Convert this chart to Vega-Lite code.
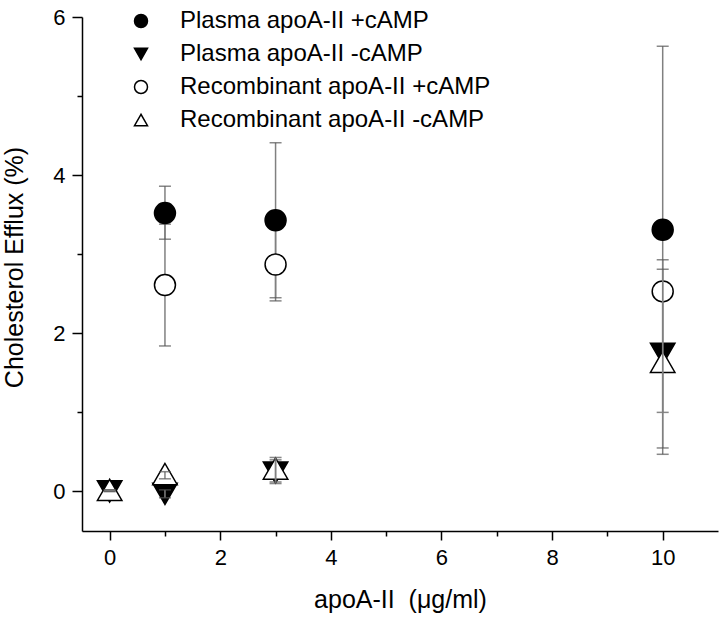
{
  "$schema": "https://vega.github.io/schema/vega-lite/v6.json",
  "width": 636,
  "height": 514,
  "autosize": {"type": "none"},
  "padding": {"left": 82, "top": 17, "right": 4, "bottom": 88},
  "background": "white",
  "config": {
    "view": {"stroke": null},
    "font": "Liberation Sans",
    "axis": {
      "domainColor": "black",
      "domainWidth": 1.5,
      "tickColor": "black",
      "tickWidth": 1.5,
      "labelColor": "black",
      "titleColor": "black",
      "labelFont": "Liberation Sans",
      "titleFont": "Liberation Sans",
      "labelFontSize": 22,
      "titleFontSize": 25,
      "titleFontWeight": "normal",
      "grid": false
    },
    "legend": {
      "orient": "none", "legendX": 47, "legendY": -8, "padding": 0,
      "symbolSize": 169, "symbolStrokeWidth": 1.5, "symbolStrokeColor": "black",
      "labelFontSize": 24, "labelFont": "Liberation Sans", "labelColor": "black",
      "labelOffset": 27, "rowPadding": 9, "labelLimit": 0
    }
  },
  "data": {
    "values": [
      {"s": "Plasma apoA-II +cAMP", "x": 1, "y": 3.52, "lo": 3.19, "hi": 3.86},
      {"s": "Plasma apoA-II +cAMP", "x": 3, "y": 3.43, "lo": 2.45, "hi": 4.41},
      {"s": "Plasma apoA-II +cAMP", "x": 10, "y": 3.31, "lo": 1.0, "hi": 5.63},
      {"s": "Plasma apoA-II -cAMP", "x": 0, "y": 0.0, "lo": 0.0, "hi": 0.0},
      {"s": "Plasma apoA-II -cAMP", "x": 1, "y": -0.03, "lo": -0.08, "hi": 0.02},
      {"s": "Plasma apoA-II -cAMP", "x": 3, "y": 0.24, "lo": 0.1, "hi": 0.4},
      {"s": "Plasma apoA-II -cAMP", "x": 10, "y": 1.74, "lo": 0.55, "hi": 2.93},
      {"s": "Recombinant apoA-II +cAMP", "x": 1, "y": 2.61, "lo": 1.84, "hi": 3.38},
      {"s": "Recombinant apoA-II +cAMP", "x": 3, "y": 2.87, "lo": 2.41, "hi": 3.33},
      {"s": "Recombinant apoA-II +cAMP", "x": 10, "y": 2.53, "lo": 2.43, "hi": 2.63},
      {"s": "Recombinant apoA-II -cAMP", "x": 0, "y": 0.02, "lo": 0.02, "hi": 0.02},
      {"s": "Recombinant apoA-II -cAMP", "x": 1, "y": 0.22, "lo": 0.16, "hi": 0.25},
      {"s": "Recombinant apoA-II -cAMP", "x": 3, "y": 0.29, "lo": 0.12, "hi": 0.43},
      {"s": "Recombinant apoA-II -cAMP", "x": 10, "y": 1.64, "lo": 0.47, "hi": 2.81}
    ]
  },
  "encoding": {
    "x": {
      "field": "x",
      "type": "quantitative",
      "scale": {"domain": [-0.5, 11], "nice": false, "zero": false},
      "axis": {
        "orient": "bottom",
        "values": [0, 1, 2, 3, 4, 5, 6, 7, 8, 9, 10],
        "labelExpr": "datum.value % 2 === 0 ? datum.label : ''",
        "tickSize": {"condition": {"test": "datum.value % 2 === 0", "value": 9}, "value": 5},
        "labelPadding": 7,
        "labelFlush": false,
        "title": "apoA-II\u00a0 (\u03bcg/ml)",
        "titleBaseline": "alphabetic",
        "titleY": 76
      }
    },
    "y": {
      "field": "y",
      "type": "quantitative",
      "scale": {"domain": [-0.5, 6], "nice": false, "zero": false},
      "axis": {
        "orient": "left",
        "values": [0, 1, 2, 3, 4, 5, 6],
        "labelExpr": "datum.value % 2 === 0 ? datum.label : ''",
        "tickSize": {"condition": {"test": "datum.value % 2 === 0", "value": 10}, "value": 5},
        "labelPadding": 7,
        "labelFlush": false,
        "title": "Cholesterol Efflux (%)",
        "titleBaseline": "alphabetic",
        "titleAngle": -90,
        "titleAlign": "center",
        "titleX": -60,
        "titleY": 250
      }
    }
  },
  "layer": [
    {
      "transform": [{"filter": {"field": "s", "oneOf": ["Plasma apoA-II +cAMP", "Recombinant apoA-II +cAMP"]}}],
      "mark": {"type": "rule", "color": "#808080", "strokeWidth": 1.5},
      "encoding": {
        "y": {"field": "lo", "type": "quantitative"},
        "y2": {"field": "hi"}
      }
    },
    {
      "transform": [
        {"filter": {"field": "s", "oneOf": ["Plasma apoA-II +cAMP", "Recombinant apoA-II +cAMP"]}},
        {"fold": ["lo", "hi"], "as": ["k", "v"]}
      ],
      "mark": {"type": "tick", "orient": "horizontal", "size": 12, "thickness": 1.5, "color": "#555555"},
      "encoding": {
        "y": {"field": "v", "type": "quantitative"}
      }
    },
    {
      "transform": [{"filter": {"field": "s", "oneOf": ["Plasma apoA-II +cAMP", "Recombinant apoA-II +cAMP"]}}],
      "mark": {"type": "point", "filled": true, "strokeWidth": 1.5, "opacity": 1, "size": 440},
      "encoding": {
        "shape": {
          "field": "s",
          "type": "nominal",
          "title": null,
          "scale": {
            "domain": ["Plasma apoA-II +cAMP", "Plasma apoA-II -cAMP", "Recombinant apoA-II +cAMP", "Recombinant apoA-II -cAMP"],
            "range": ["circle", "triangle-down", "circle", "triangle-up"]
          }
        },
        "fill": {
          "field": "s",
          "type": "nominal",
          "title": null,
          "scale": {
            "domain": ["Plasma apoA-II +cAMP", "Plasma apoA-II -cAMP", "Recombinant apoA-II +cAMP", "Recombinant apoA-II -cAMP"],
            "range": ["black", "black", "white", "white"]
          }
        },
        "stroke": {
          "field": "s",
          "type": "nominal",
          "title": null,
          "scale": {
            "domain": ["Plasma apoA-II +cAMP", "Plasma apoA-II -cAMP", "Recombinant apoA-II +cAMP", "Recombinant apoA-II -cAMP"],
            "range": ["black", "black", "black", "black"]
          }
        }
      }
    },
    {
      "transform": [{"filter": {"field": "s", "oneOf": ["Plasma apoA-II -cAMP", "Recombinant apoA-II -cAMP"]}}],
      "mark": {"type": "point", "filled": true, "strokeWidth": 1.5, "opacity": 1, "size": 600},
      "encoding": {
        "shape": {"field": "s", "type": "nominal", "title": null},
        "fill": {"field": "s", "type": "nominal", "title": null},
        "stroke": {"field": "s", "type": "nominal", "title": null}
      }
    },
    {
      "transform": [{"filter": {"field": "s", "oneOf": ["Plasma apoA-II -cAMP", "Recombinant apoA-II -cAMP"]}}],
      "mark": {"type": "rule", "color": "#808080", "strokeWidth": 1.5},
      "encoding": {
        "y": {"field": "lo", "type": "quantitative"},
        "y2": {"field": "hi"}
      }
    },
    {
      "transform": [
        {"filter": {"field": "s", "oneOf": ["Plasma apoA-II -cAMP", "Recombinant apoA-II -cAMP"]}},
        {"fold": ["lo", "hi"], "as": ["k", "v"]}
      ],
      "mark": {"type": "tick", "orient": "horizontal", "size": 12, "thickness": 1.5, "color": "#555555"},
      "encoding": {
        "y": {"field": "v", "type": "quantitative"}
      }
    }
  ]
}
